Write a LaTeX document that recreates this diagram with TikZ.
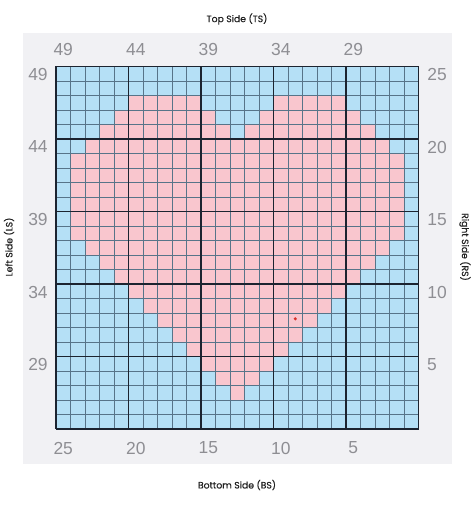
\documentclass[tikz,border=0pt]{standalone}
\usepackage{fontspec}
\setmainfont{Liberation Sans}
\newfontfamily\titlefont[FakeBold=0.5]{Poppins}
\definecolor{panel}{HTML}{F1F1F4}
\definecolor{cellblue}{HTML}{B5E0F6}
\definecolor{cellpink}{HTML}{F9C6CE}
\definecolor{thinline}{HTML}{577489}
\definecolor{thickline}{HTML}{1C2430}
\definecolor{numgray}{HTML}{8E8E93}
\definecolor{dotred}{HTML}{D9302A}
\begin{document}
\begin{tikzpicture}[x=1bp,y=-1bp,
  num/.style={font=\fontsize{17.5}{17.5}\selectfont, text=numgray, inner sep=0pt},
  sidelabel/.style={font=\titlefont\fontsize{9.3}{11}\selectfont, text=black!88, inner sep=0pt},
  thin/.style={draw=thinline, line width=0.7bp},
  thick/.style={draw=thickline, line width=1.5bp}]
\useasboundingbox (0,0) rectangle (474,507);
\fill[panel] (23,33) rectangle (452,464);
\begin{scope}[shift={(56,66.5)}, x=14.5bp, y=-14.5bp]
  \fill[cellblue] (0,0) rectangle (25,25);
  \foreach \r/\a/\b in {2/5/9, 2/15/19, 3/4/10, 3/14/20, 4/3/11, 4/13/21, 5/2/22,
      6/1/23, 7/1/23, 8/1/23, 9/1/23, 10/1/23, 11/1/23, 12/2/22, 13/3/21, 14/4/20,
      15/5/19, 16/6/18, 17/7/17, 18/8/16, 19/9/15, 20/10/14, 21/11/13, 22/12/12}
    \fill[cellpink] (\a,\r) rectangle (\b+1,\r+1);
  \foreach \i in {1,...,24} {
    \draw[thin] (\i,0) -- (\i,25);
    \draw[thin] (0,\i) -- (25,\i);
  }
  \foreach \i in {0,5,...,25} {
    \draw[thick] (\i,0) -- (\i,25);
    \draw[thick] (0,\i) -- (25,\i);
  }
  \fill[dotred] (16.5,17.4) circle (1.7bp);
\end{scope}
% top numbers
\node[num] (t49) at (63.25,50) {49};
\node[num] (t44) at (135.75,50) {44};
\node[num] (t39) at (208.25,50) {39};
\node[num] (t34) at (280.75,50) {34};
\node[num] (t29) at (353.25,50) {29};
% bottom numbers
\node[num] (b25) at (63.25,448) {25};
\node[num] (b20) at (135.75,448) {20};
\node[num] (b15) at (208.25,448) {15};
\node[num] (b10) at (280.75,448) {10};
\node[num] (b5) at (353.25,448) {5};
% left numbers
\node[num] (l49) at (38,74.5) {49};
\node[num] (l44) at (38,147) {44};
\node[num] (l39) at (38,219.5) {39};
\node[num] (l34) at (38,292) {34};
\node[num] (l29) at (38,364.5) {29};
% right numbers
\node[num] (r25) at (437,74.5) {25};
\node[num] (r20) at (437,147) {20};
\node[num] (r15) at (437,219.5) {15};
\node[num] (r10) at (437,292) {10};
\node[num] (r5) at (432,364.5) {5};
% side titles
\node[sidelabel] (ts) at (237,19) {Top Side (TS)};
\node[sidelabel] (bs) at (237,485) {Bottom Side (BS)};
\node[sidelabel, rotate=90] (ls) at (9,247) {Left Side (LS)};
\node[sidelabel, rotate=-90] (rs) at (465,247) {Right Side (RS)};
\end{tikzpicture}
\end{document}
